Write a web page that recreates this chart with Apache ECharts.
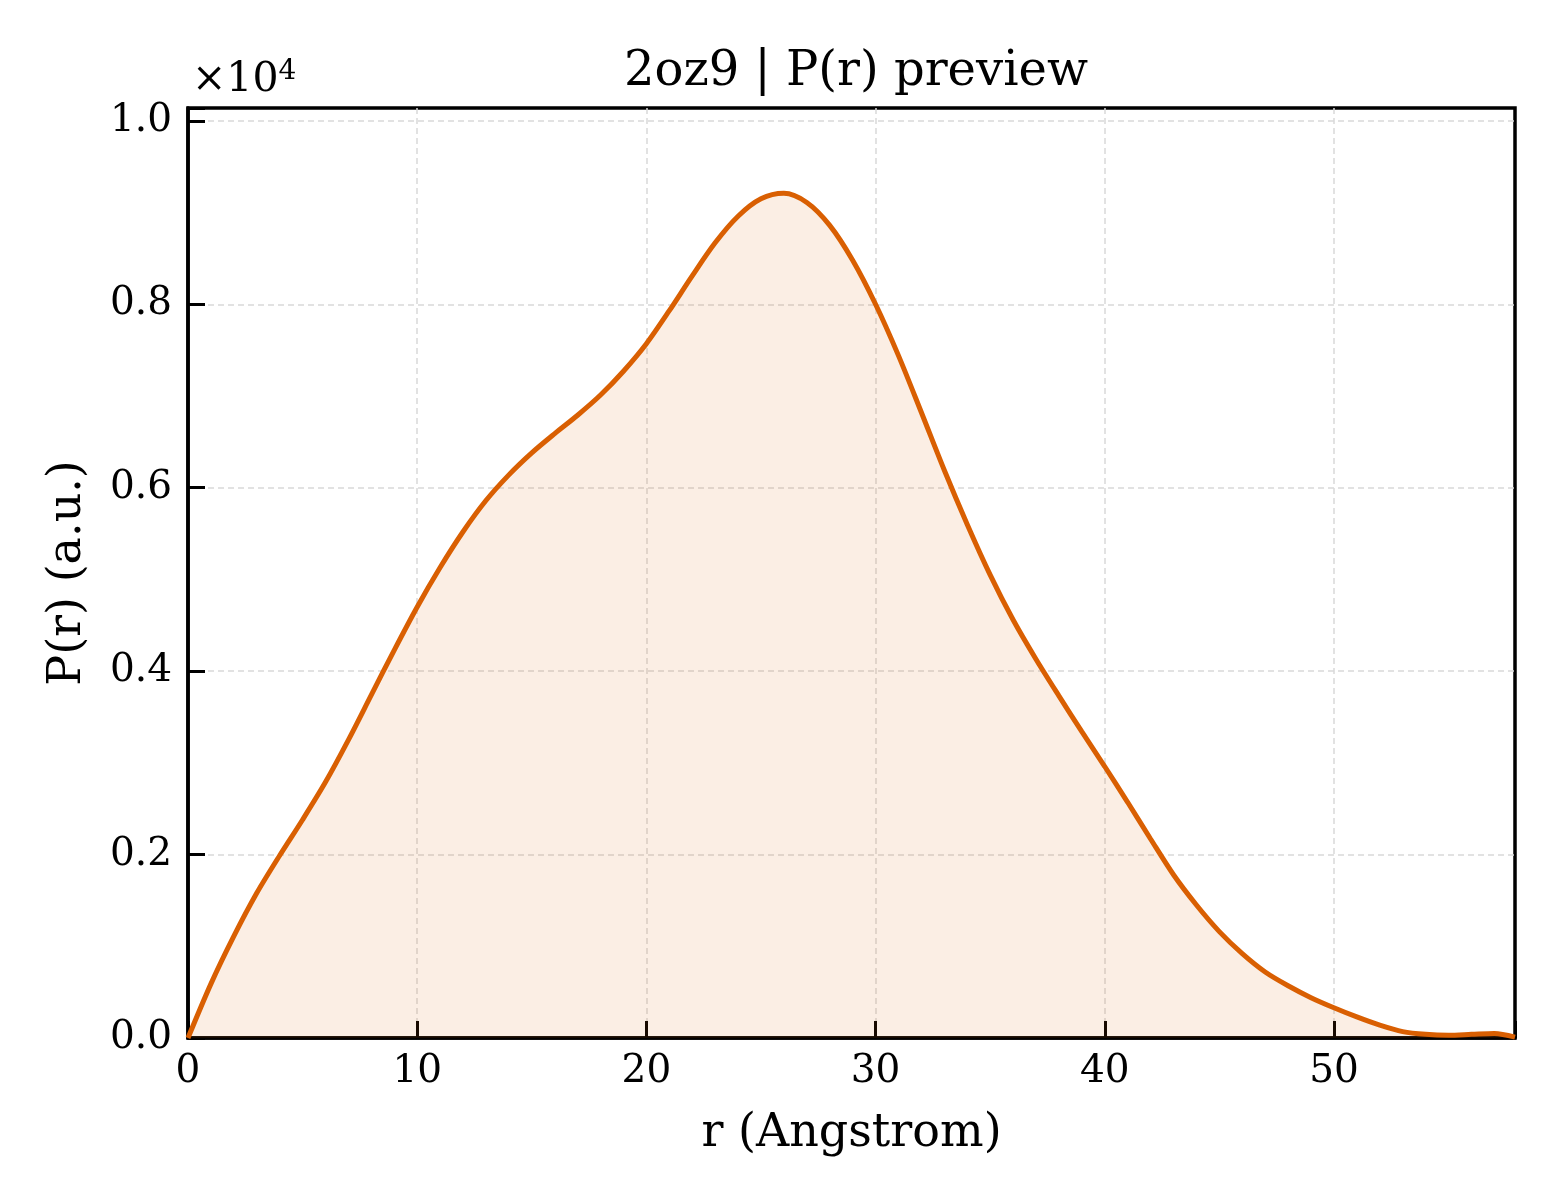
<!DOCTYPE html>
<html>
<head>
<meta charset="utf-8">
<title>2oz9 P(r) preview</title>
<script src="https://cdn.jsdelivr.net/npm/echarts@6/dist/echarts.min.js"></script>
<style>
  html, body { margin: 0; padding: 0; background: #fff; }
  #chart { width: 1560px; height: 1200px; }
</style>
</head>
<body>
<div id="chart"></div>
<script>
// r 轴 (Angstrom)
var rValues = [0, 1, 2, 3, 4, 5, 6, 7, 8, 9,
  10, 11, 12, 13, 14, 15, 16, 17, 18, 19,
  20, 21, 22, 23, 24, 25, 26, 27, 28, 29,
  30, 31, 32, 33, 34, 35, 36, 37, 38, 39,
  40, 41, 42, 43, 44, 45, 46, 47, 48, 49,
  50, 51, 52, 53, 54, 55, 56, 57, 57.9];
// P(r) 原始值 (a.u.)
var pValues = [0, 590, 1110, 1580, 1990, 2380, 2790, 3250, 3740, 4230,
  4700, 5130, 5520, 5860, 6140, 6380, 6590, 6790, 7010, 7270,
  7570, 7930, 8310, 8670, 8960, 9150, 9210, 9110, 8860, 8480,
  8000, 7440, 6820, 6190, 5600, 5050, 4560, 4130, 3730, 3340,
  2960, 2570, 2170, 1780, 1450, 1160, 920, 720, 570, 440,
  330, 230, 140, 70, 40, 30, 40, 50, 10];
var xTicks = [0, 10, 20, 30, 40, 50];
var yTicks = [0, 2000, 4000, 6000, 8000, 10000];

var seriesData = rValues.map(function (r, i) { return [r, pValues[i]]; });

var chart = echarts.init(document.getElementById('chart'));
var serif = 'DejaVu Serif';
var gridLine = { show: true, showMinLine: false, showMaxLine: false,
  lineStyle: { color: '#d9d9d9', width: 1.5, type: [6, 4] } };

var option = {
  backgroundColor: '#ffffff',
  animation: false,
  title: {
    text: '2oz9 | P(r) preview',
    left: 851, top: 44, textAlign: 'center',
    textStyle: { fontFamily: serif, fontSize: 48, fontWeight: 'normal', color: '#000' }
  },
  grid: {
    left: 188, right: 45, top: 108, bottom: 162,
    show: true, borderColor: '#000', borderWidth: 3.5, backgroundColor: 'transparent'
  },
  graphic: [{
    type: 'text', left: 192, top: 58,
    style: {
      text: '{a|×10}{b|4}',
      rich: {
        a: { fontFamily: serif, fontSize: 41, fill: '#000' },
        b: { fontFamily: serif, fontSize: 28, fill: '#000', verticalAlign: 'top', padding: [0, 0, 16, 0] }
      }
    }
  }],
  xAxis: {
    type: 'value', min: 0, max: 57.9, interval: 10,
    name: 'r (Angstrom)', nameLocation: 'middle', nameGap: 73,
    nameTextStyle: { fontFamily: serif, fontSize: 46, color: '#000' },
    axisLine: { show: true, lineStyle: { color: '#000', width: 3.5 } },
    axisTick: { show: true, inside: true, length: 17, lineStyle: { color: '#000', width: 3 } },
    axisLabel: {
      fontFamily: serif, fontSize: 39, color: '#000', margin: 14,
      formatter: function (v) { return xTicks.indexOf(v) >= 0 ? String(v) : ''; }
    },
    splitLine: gridLine
  },
  yAxis: {
    type: 'value', min: 0, max: 10140, interval: 2000,
    name: 'P(r) (a.u.)', nameLocation: 'middle', nameGap: 97, nameRotate: 90,
    nameTextStyle: { fontFamily: serif, fontSize: 46, color: '#000' },
    axisLine: { show: true, lineStyle: { color: '#000', width: 3.5 } },
    axisTick: { show: true, inside: true, length: 17, lineStyle: { color: '#000', width: 3 } },
    axisLabel: {
      fontFamily: serif, fontSize: 39, color: '#000', margin: 16,
      formatter: function (v) { return yTicks.indexOf(v) >= 0 ? (v / 10000).toFixed(1) : ''; }
    },
    splitLine: gridLine
  },
  series: [{
    type: 'line',
    data: seriesData,
    smooth: 0.3,
    showSymbol: false,
    clip: true,
    lineStyle: { color: '#d95f02', width: 5 },
    itemStyle: { color: '#d95f02' },
    areaStyle: { color: 'rgba(217,95,2,0.15)' }
  }]
};
chart.setOption(option);
</script>
</body>
</html>
